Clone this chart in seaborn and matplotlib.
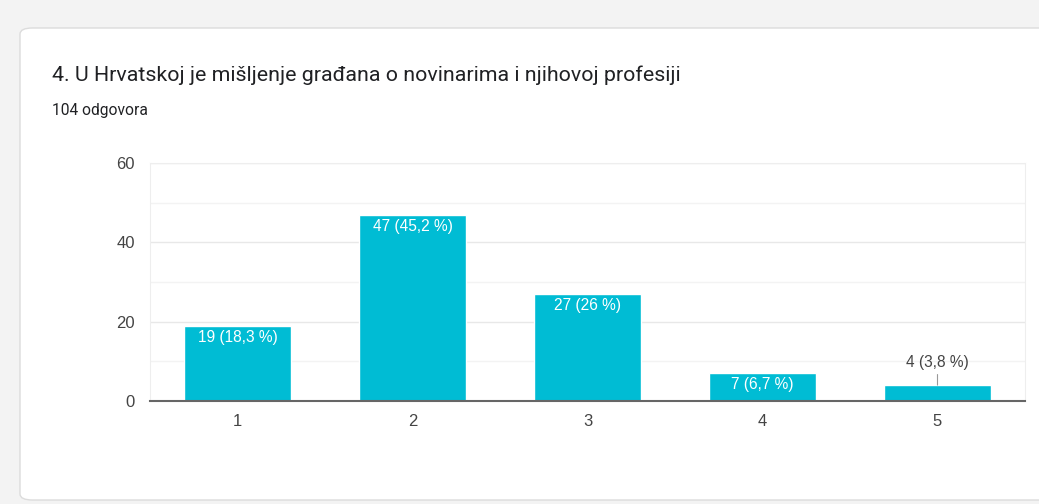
import matplotlib
matplotlib.use("Agg")
import matplotlib.pyplot as plt
import seaborn as sns
import pandas as pd
from matplotlib.patches import FancyBboxPatch

categories = ["1", "2", "3", "4", "5"]
counts = [19, 47, 27, 7, 4]
labels = ["19 (18,3 %)", "47 (45,2 %)", "27 (26 %)", "7 (6,7 %)", "4 (3,8 %)"]
title = "4. U Hrvatskoj je mišljenje građana o novinarima i njihovoj profesiji"
subtitle = "104 odgovora"
yticks = [0, 20, 40, 60]

sns.set_style("white")
plt.rcParams['font.family'] = ['Liberation Sans', 'DejaVu Sans']

W, H = 1039, 504
fig = plt.figure(figsize=(W / 100, H / 100), dpi=100)
fig.patch.set_facecolor("#f3f3f3")

# card
card = FancyBboxPatch((20 / W, 4 / H), (1060 - 20) / W, (476 - 4) / H,
                      boxstyle="round,pad=0,rounding_size=0.012",
                      transform=fig.transFigure, facecolor="white",
                      edgecolor="#dcdcdc", linewidth=1.0, zorder=-10)
fig.patches.append(card)

fig.text(52 / W, 1 - 75 / H, title, fontsize=15.4, color="#202124",
         family=['Roboto', 'DejaVu Sans'], va="center", ha="left")
fig.text(52 / W, 1 - 110 / H, subtitle, fontsize=11.2, color="#202124",
         family=['Roboto', 'DejaVu Sans'], va="center", ha="left")

ax = fig.add_axes([150 / W, 1 - 401 / H, (1025 - 150) / W, (401 - 163) / H])
ax.set_zorder(5)
ax.set_facecolor("white")
df = pd.DataFrame({"cat": categories, "count": counts})
sns.barplot(data=df, x="cat", y="count", color="#00bcd4", saturation=1,
            width=0.61, ax=ax, zorder=3)

ax.set_ylim(0, 60)
ax.set_yticks(yticks)
ax.set_yticks([10, 30, 50], minor=True)
ax.grid(axis="y", which="major", color="#e8e8e8", linewidth=1, zorder=0)
ax.grid(axis="y", which="minor", color="#f3f3f3", linewidth=1, zorder=0)
ax.set_axisbelow(True)
ax.set_xlabel("")
ax.set_ylabel("")
ax.tick_params(axis="both", which="both", length=0, labelsize=12, labelcolor="#444444")
ax.tick_params(axis="y", pad=11)
ax.tick_params(axis="x", pad=9)
for s in ["top", "left", "right"]:
    ax.spines[s].set_color("#eeeeee")
    ax.spines[s].set_linewidth(0.8)
ax.spines["bottom"].set_color("#666666")
ax.spines["bottom"].set_linewidth(1.5)
ax.spines["bottom"].set_zorder(5)

for i, (v, lab) in enumerate(zip(counts, labels)):
    if v >= 6:
        ax.annotate(lab, xy=(i, v), xytext=(0, -3), textcoords="offset points",
                    ha="center", va="top", color="white", fontsize=11.2, zorder=6)
    else:
        ax.annotate(lab, xy=(i, v), xytext=(0, 11), textcoords="offset points",
                    ha="center", va="bottom", color="#444444", fontsize=11.2, zorder=6,
                    arrowprops=dict(arrowstyle="-", color="#999999", lw=0.8,
                                    shrinkA=1, shrinkB=0))

fig.savefig("out.png", dpi=100, facecolor=fig.get_facecolor())
